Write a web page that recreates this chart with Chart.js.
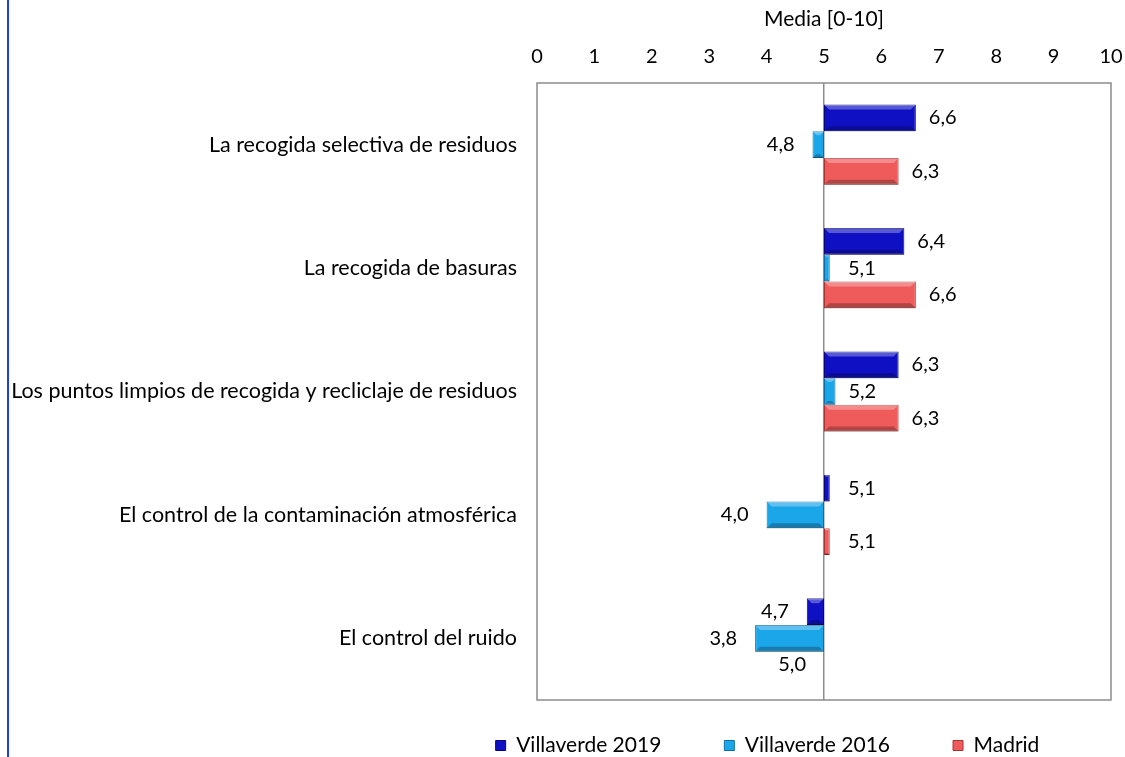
<!DOCTYPE html>
<html>
<head>
<meta charset="utf-8">
<script src="https://cdn.jsdelivr.net/npm/chart.js@4.4.1/dist/chart.umd.min.js"></script>
<style>
  html, body { margin: 0; padding: 0; background: #fff; }
  #wrap { position: relative; width: 1125px; height: 757px; }
  #edge { position: absolute; left: 7px; top: 0; width: 2px; height: 757px; background: #1a3ee8; }
  canvas { position: absolute; left: 0; top: 0; }
</style>
</head>
<body>
<div id="wrap">
  <div id="edge"></div>
  <canvas id="chart" width="1125" height="757"></canvas>
</div>
<script>
// categories (top to bottom)
const categories = [
  'La recogida selectiva de residuos',
  'La recogida de basuras',
  'Los puntos limpios de recogida y recliclaje de residuos',
  'El control de la contaminación atmosférica',
  'El control del ruido'
];

// series values, mean on a 0-10 scale
const villaverde2019 = [6.6, 6.4, 6.3, 5.1, 4.7];
const villaverde2016 = [4.8, 5.1, 5.2, 4.0, 3.8];
const madrid = [6.3, 6.6, 6.3, 5.1, 5.0];

const baseline = 5;
const xTicks = [0, 1, 2, 3, 4, 5, 6, 7, 8, 9, 10];

const FONT = 'Lato, "Open Sans", sans-serif';

// bars float from the baseline (5) to the value
function floating(values) {
  return values.map(v => [baseline, v]);
}

// draws the box around the plot area
const frame = {
  id: 'frame',
  afterDraw(chart) {
    const a = chart.chartArea;
    const ctx = chart.ctx;
    ctx.save();
    ctx.strokeStyle = '#8c8c8c';
    ctx.lineWidth = 1.5;
    ctx.strokeRect(a.left, a.top, a.right - a.left, a.bottom - a.top);
    ctx.restore();
  }
};

// light top edge / dark bottom edge, to mimic the bevelled bars
const bevel = {
  id: 'bevel',
  afterDatasetsDraw(chart) {
    const ctx = chart.ctx;
    ctx.save();
    chart.data.datasets.forEach((ds, i) => {
      chart.getDatasetMeta(i).data.forEach(bar => {
        const left = Math.min(bar.x, bar.base);
        const w = Math.abs(bar.x - bar.base);
        const top = bar.y - bar.height / 2;
        if (w < 2) return;
        const e = Math.min(5, w / 3);
        ctx.fillStyle = 'rgba(255,255,255,0.30)';
        ctx.beginPath();
        ctx.moveTo(left, top);
        ctx.lineTo(left + w, top);
        ctx.lineTo(left + w - e, top + e);
        ctx.lineTo(left + e, top + e);
        ctx.closePath();
        ctx.fill();
        ctx.fillStyle = 'rgba(0,0,0,0.25)';
        ctx.beginPath();
        ctx.moveTo(left, top + bar.height);
        ctx.lineTo(left + w, top + bar.height);
        ctx.lineTo(left + w - e, top + bar.height - e);
        ctx.lineTo(left + e, top + bar.height - e);
        ctx.closePath();
        ctx.fill();
      });
    });
    ctx.restore();
  }
};

// value labels beside the end of each bar
const valueLabels = {
  id: 'valueLabels',
  afterDatasetsDraw(chart) {
    const ctx = chart.ctx;
    const x0 = chart.scales.x.getPixelForValue(baseline);
    ctx.save();
    ctx.font = '20px ' + FONT;
    ctx.fillStyle = '#000';
    ctx.textBaseline = 'middle';
    chart.data.datasets.forEach((ds, i) => {
      chart.getDatasetMeta(i).data.forEach((bar, j) => {
        const v = ds.values[j];
        const txt = v.toFixed(1).replace('.', ',');
        if (v > baseline) {
          ctx.textAlign = 'left';
          ctx.fillText(txt, Math.max(bar.x + 13, x0 + 24), bar.y);
        } else {
          ctx.textAlign = 'right';
          ctx.fillText(txt, Math.min(bar.x, bar.base) - 18, bar.y);
        }
      });
    });
    ctx.restore();
  }
};

// keep the legend compact in height and nudge it right, as in the original
const legendFix = {
  id: 'legendFix',
  beforeLayout(chart) {
    const lg = chart.legend;
    if (lg && !lg._patched) {
      const fit = lg.fit;
      lg.fit = function () {
        fit.call(this);
        this.height = 57;
      };
      lg._patched = true;
    }
  },
  afterLayout(chart) {
    const lg = chart.legend;
    lg.left += 200;
    lg.right += 200;
    lg.top -= 28;
  }
};

new Chart(document.getElementById('chart'), {
  type: 'bar',
  data: {
    labels: categories,
    datasets: [
      { label: 'Villaverde 2019', data: floating(villaverde2019), values: villaverde2019,
        backgroundColor: '#0f10c4', borderColor: '#06067a', borderWidth: 1 },
      { label: 'Villaverde 2016', data: floating(villaverde2016), values: villaverde2016,
        backgroundColor: '#1ca6ea', borderColor: '#0b6fa6', borderWidth: 1 },
      { label: 'Madrid', data: floating(madrid), values: madrid,
        backgroundColor: '#ef5b5b', borderColor: '#a83434', borderWidth: 1 }
    ]
  },
  options: {
    indexAxis: 'y',
    responsive: false,
    animation: false,
    layout: { padding: { left: 10, right: 0, top: 4, bottom: 0 } },
    plugins: {
      legend: {
        position: 'bottom',
        labels: {
          boxWidth: 10,
          boxHeight: 10,
          padding: 63,
          color: '#000',
          font: { family: FONT, size: 21 }
        }
      },
      tooltip: { enabled: false }
    },
    datasets: {
      bar: { categoryPercentage: 0.65, barPercentage: 1, borderSkipped: false }
    },
    scales: {
      x: {
        position: 'top',
        min: 0,
        max: 10,
        afterBuildTicks: s => { s.ticks = xTicks.map(v => ({ value: v })); },
        afterFit: s => { s.height = 79; s.paddingRight = 14; },
        ticks: {
          padding: 14,
          color: '#000',
          font: { family: FONT, size: 20 }
        },
        grid: {
          drawTicks: false,
          color: ctx => (ctx.tick && ctx.tick.value === baseline ? '#8c8c8c' : 'rgba(0,0,0,0)'),
          lineWidth: 1.5
        },
        border: { display: false },
        title: {
          display: true,
          text: 'Media [0-10]',
          color: '#000',
          font: { family: FONT, size: 21 },
          padding: { top: 3, bottom: 4 }
        }
      },
      y: {
        afterFit: s => { s.width = 527; },
        ticks: {
          padding: 20,
          color: '#000',
          font: { family: FONT, size: 21.5 }
        },
        grid: { display: false, drawTicks: false },
        border: { display: false }
      }
    }
  },
  plugins: [frame, bevel, valueLabels, legendFix]
});
</script>
</body>
</html>
